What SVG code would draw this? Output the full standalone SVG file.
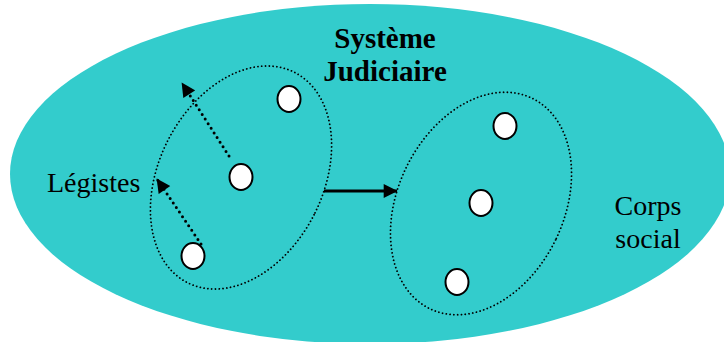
<svg xmlns="http://www.w3.org/2000/svg" width="724" height="342" viewBox="0 0 724 342">
<defs>
<style>
.bg{fill:#33CCCC;stroke:none}
.grp{fill:none;stroke:#000;stroke-width:1.8;stroke-dasharray:0 3.8;stroke-linecap:round}
.pt{fill:#fff;stroke:#000;stroke-width:2}
.dot{fill:none;stroke:#000;stroke-width:3;stroke-dasharray:0 5.5;stroke-linecap:round}
.solid{fill:none;stroke:#000;stroke-width:3}
.lbl{font-family:"Liberation Serif","Times New Roman",serif;font-size:28px;fill:#000}
.ttl{font-family:"Liberation Serif","Times New Roman",serif;font-size:29px;font-weight:bold;fill:#000;text-anchor:middle}
</style>
<marker id="ah" viewBox="0 0 10 10" refX="9.5" refY="5" markerUnits="userSpaceOnUse" markerWidth="16" markerHeight="14" orient="auto">
<path d="M0,0 L10,5 L0,10 z" fill="#000"/>
</marker>
</defs>
<g id="corps-social">
<ellipse class="bg" cx="370" cy="174" rx="360" ry="170"/>
<text class="lbl" x="648" y="215" text-anchor="middle">Corps</text>
<text class="lbl" x="648" y="248" text-anchor="middle">social</text>
</g>
<g id="systeme-judiciaire-label">
<text class="ttl" x="385" y="48">Système</text>
<text class="ttl" x="385" y="81">Judiciaire</text>
</g>
<g id="legistes-group">
<ellipse class="grp" cx="241" cy="177.5" rx="82" ry="118" transform="rotate(27 241 177.5)"/>
<ellipse class="pt" cx="289" cy="99" rx="11.5" ry="13"/>
<ellipse class="pt" cx="241" cy="177" rx="11.5" ry="13"/>
<ellipse class="pt" cx="193" cy="256" rx="11.5" ry="13"/>
<text class="lbl" x="47" y="192">Légistes</text>
</g>
<g id="social-group">
<ellipse class="grp" cx="481" cy="203.5" rx="83" ry="117" transform="rotate(26 481 203.5)"/>
<ellipse class="pt" cx="505" cy="126" rx="11.5" ry="13"/>
<ellipse class="pt" cx="481" cy="203" rx="11.5" ry="13"/>
<ellipse class="pt" cx="457" cy="282" rx="11.5" ry="13"/>
</g>
<g id="connectors">
<path class="dot" d="M229,156 L182,83" marker-end="url(#ah)"/>
<path class="dot" d="M201,244 L157,179" marker-end="url(#ah)"/>
<path class="solid" d="M324,191 L397,191" marker-end="url(#ah)"/>
</g>
</svg>
